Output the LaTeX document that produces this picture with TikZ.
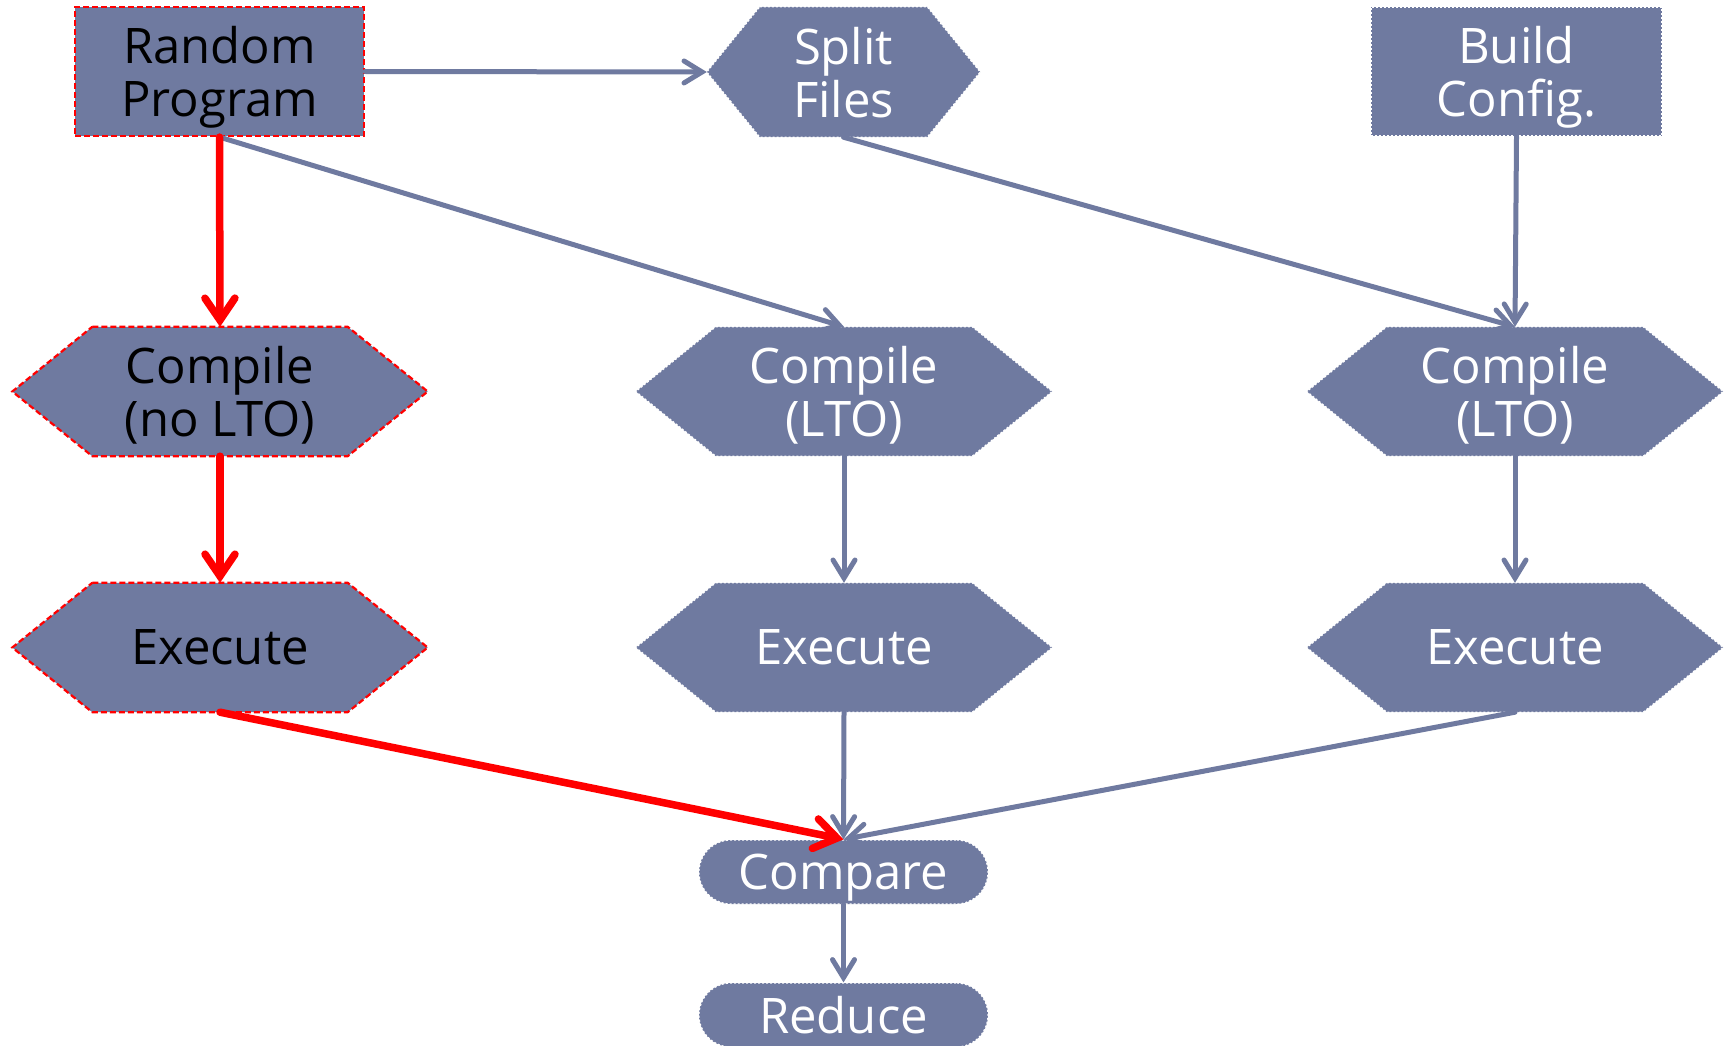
\documentclass[tikz,border=0pt]{standalone}
\usepackage{fontspec}
\setmainfont{Open Sans}
\usetikzlibrary{arrows.meta,calc,backgrounds}
\definecolor{slate}{RGB}{111,122,160}
\definecolor{hired}{RGB}{255,0,0}
\tikzset{
  box/.style={rectangle, inner sep=0pt, font=\fontsize{49}{53}\selectfont, align=center, text=white, text depth=0pt},
  redtext/.style={text=black},
  greyline/.style={draw=slate, line width=5pt, line cap=round, -{Straight Barb[length=18pt,width=22pt,line cap=round]}},
  redline/.style={draw=hired, line width=7.5pt, line cap=round, -{Straight Barb[length=22pt,width=30pt,line cap=round]}},
  greyborder/.style={fill=slate, draw=white, line width=1.2pt, dash pattern=on 2pt off 2pt},
  redborder/.style={fill=slate, draw=hired, line width=2.2pt, dash pattern=on 6pt off 3pt},
}
\newcommand{\hexdraw}[3]{%
  \path[#1] ($(#2.north west)+(#3,0)$) -- ($(#2.north east)+(-#3,0)$) -- (#2.east)
    -- ($(#2.south east)+(-#3,0)$) -- ($(#2.south west)+(#3,0)$) -- (#2.west) -- cycle;}
\begin{document}
\begin{tikzpicture}[x=1pt,y=-1pt]
\useasboundingbox (0,0) rectangle (1731,1046);
% nodes
\node[box, redtext, redborder, minimum width=289pt, minimum height=129pt] (rp) at (219.5,71.5) {Random\\Program};
\node[box, minimum width=273pt, minimum height=130pt] (split) at (843.5,72) {Split\\Files};
\node[box, greyborder, minimum width=291pt, minimum height=129pt] (build) at (1516.5,71.5) {Build\\Config.};
\node[box, redtext, minimum width=415pt, minimum height=129pt] (c1) at (220,391.5) {Compile\\(no LTO)};
\node[box, minimum width=416pt, minimum height=129pt] (c2) at (844,391.5) {Compile\\(LTO)};
\node[box, minimum width=416pt, minimum height=129pt] (c3) at (1515,391.5) {Compile\\(LTO)};
\node[box, redtext, minimum width=415pt, minimum height=129pt] (e1) at (220,647.5) {Execute};
\node[box, minimum width=416pt, minimum height=129pt] (e2) at (844,647.5) {Execute};
\node[box, minimum width=416pt, minimum height=129pt] (e3) at (1515,647.5) {Execute};
\node[box, greyborder, rounded corners=32pt, minimum width=289pt, minimum height=64pt] (cmp) at (843.5,872) {Compare};
\node[box, greyborder, rounded corners=32pt, minimum width=289pt, minimum height=64pt] (rdc) at (843.5,1015) {Reduce};
% hexagon outlines
\begin{scope}[on background layer]
  \fill[white] (0,0) rectangle (1731,1046);
  \hexdraw{greyborder}{split}{53}
  \hexdraw{redborder}{c1}{80}
  \hexdraw{greyborder}{c2}{80}
  \hexdraw{greyborder}{c3}{80}
  \hexdraw{redborder}{e1}{80}
  \hexdraw{greyborder}{e2}{80}
  \hexdraw{greyborder}{e3}{80}
\end{scope}
% connectors
\draw[greyline] (rp.east) -- (split.west);
\draw[greyline] (rp.south) -- (c2.north);
\draw[greyline] (split.south) -- (c3.north);
\draw[greyline] (build.south) -- (c3.north);
\draw[greyline] (c2.south) -- (e2.north);
\draw[greyline] (c3.south) -- (e3.north);
\draw[greyline] (e2.south) -- (cmp.north);
\draw[greyline] (e3.south) -- (cmp.north);
\draw[greyline] (cmp.south) -- (rdc.north);
\draw[redline] (rp.south) -- (c1.north);
\draw[redline] (c1.south) -- (e1.north);
\draw[redline] (e1.south) -- (cmp.north);
\end{tikzpicture}
\end{document}
